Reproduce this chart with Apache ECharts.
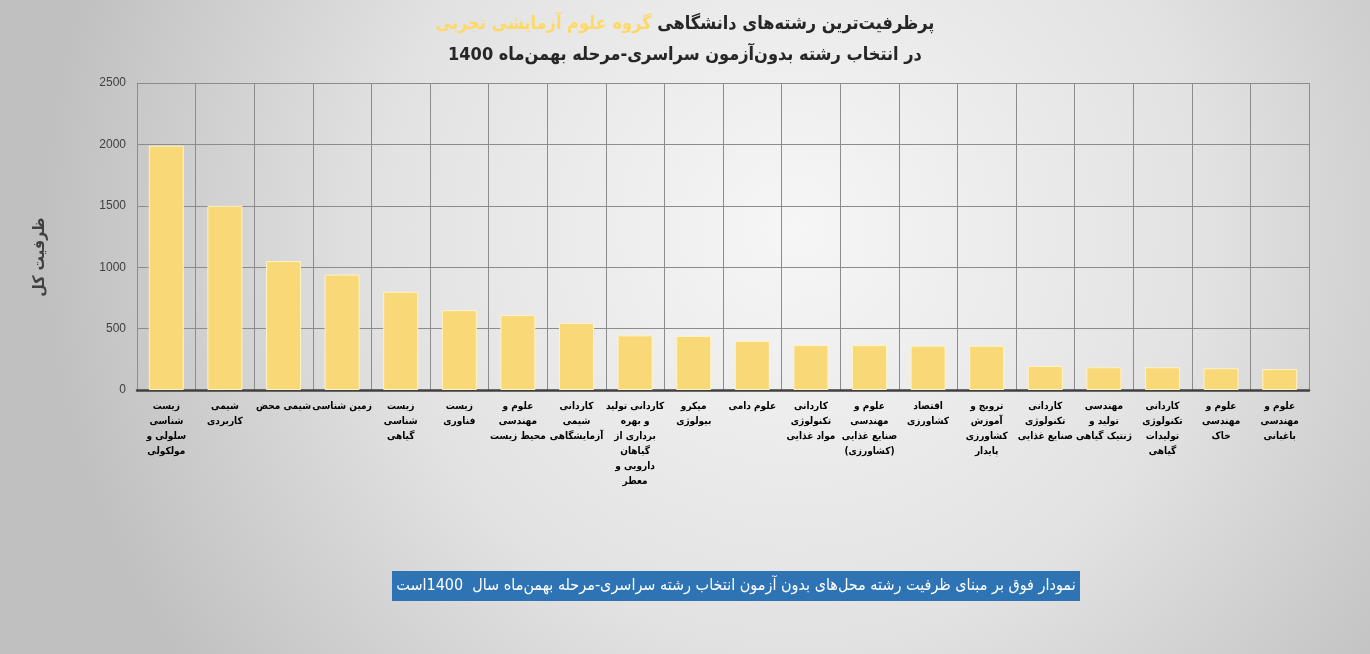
<!DOCTYPE html>
<html>
<head>
<meta charset="utf-8">
<script src="https://cdn.jsdelivr.net/npm/echarts@6/dist/echarts.min.js"></script>
<style>
html,body{margin:0;padding:0;}
#c{width:1370px;height:654px;}
</style>
</head>
<body>
<div id="c"></div>
<script>
const categories = [
  "زیست\nشناسی\nسلولی و\nمولکولی",
  "شیمی\nکاربردی",
  "شیمی محض",
  "زمین شناسی",
  "زیست\nشناسی\nگیاهی",
  "زیست\nفناوری",
  "علوم و\nمهندسی\nمحیط زیست",
  "کاردانی\nشیمی\nآزمایشگاهی",
  "کاردانی تولید\nو بهره\nبرداری از\nگیاهان\nدارویی و\nمعطر",
  "میکرو\nبیولوژی",
  "علوم دامی",
  "کاردانی\nتکنولوژی\nمواد غذایی",
  "علوم و\nمهندسی\nصنایع غذایی\n(کشاورزی)",
  "اقتصاد\nکشاورزی",
  "ترویج و\nآموزش\nکشاورزی\nپایدار",
  "کاردانی\nتکنولوژی\nصنایع غذایی",
  "مهندسی\nتولید و\nژنتیک گیاهی",
  "کاردانی\nتکنولوژی\nتولیدات\nگیاهی",
  "علوم و\nمهندسی\nخاک",
  "علوم و\nمهندسی\nباغبانی"
];
const capacity = [1990, 1500, 1050, 940, 800, 650, 610, 545, 445, 440, 400, 365, 365, 360, 360, 195, 185, 185, 177, 170];
const yMin = 0, yMax = 2500, yStep = 500;

const titleDark = "پرظرفیت‌ترین رشته‌های دانشگاهی";
const titleYellow = "گروه علوم آزمایشی تجربی";
const titleLine2 = "در انتخاب رشته بدون‌آزمون سراسری-مرحله بهمن‌ماه 1400";
const yAxisTitle = "ظرفیت کل";
const footNote = "نمودار فوق بر مبنای ظرفیت رشته محل‌های بدون آزمون انتخاب رشته سراسری-مرحله بهمن‌ماه سال  1400است";

const RLE = "\u202B", PDF = "\u202C";
function rtl(s){ return s.split("\n").map(l => RLE + l + PDF).join("\n"); }

const AR = "'DejaVu Sans Condensed','DejaVu Sans',sans-serif";

const chart = echarts.init(document.getElementById('c'));
chart.setOption({
  backgroundColor: {
    type: 'radial', x: 0.58, y: 0.35, r: 1.15,
    colorStops: [{offset: 0, color: '#f6f6f6'}, {offset: 0.55, color: '#e2e2e2'}, {offset: 1, color: '#c0c0c0'}]
  },
  animation: false,
  title: {
    left: 'center', top: 4,
    text: '{y|' + rtl(titleYellow) + '}{d| ' + rtl(titleDark) + '}\n{d|' + rtl(titleLine2) + '}',
    textStyle: {
      rich: {
        y: {color: '#FFD966', fontSize: 18, fontWeight: 'bold', fontFamily: AR, lineHeight: 31},
        d: {color: '#262626', fontSize: 18, fontWeight: 'bold', fontFamily: AR, lineHeight: 31}
      }
    }
  },
  grid: {left: 137, right: 61, top: 83, bottom: 264, containLabel: false},
  xAxis: {
    type: 'category',
    data: categories,
    axisLine: {show: true, lineStyle: {color: '#404040', width: 2.5}},
    axisTick: {show: false},
    splitLine: {show: true, lineStyle: {color: '#8c8c8c', width: 1}},
    axisLabel: {
      interval: 0, margin: 9, color: '#000', fontSize: 10, fontWeight: 'bold',
      fontFamily: AR, lineHeight: 15, verticalAlign: 'top',
      formatter: v => rtl(v)
    }
  },
  yAxis: {
    type: 'value', min: yMin, max: yMax, interval: yStep,
    axisLine: {show: true, lineStyle: {color: '#8c8c8c', width: 1}},
    axisTick: {show: false},
    splitLine: {show: true, lineStyle: {color: '#8c8c8c', width: 1}},
    axisLabel: {color: '#404040', fontSize: 12, fontFamily: "'Liberation Sans',sans-serif", margin: 11, formatter: v => String(v)}
  },
  graphic: [
    {
      type: 'text', x: 40, y: 257, rotation: Math.PI / 2,
      style: {text: rtl(yAxisTitle), fill: '#404040', font: "bold 16px " + AR, align: 'center', verticalAlign: 'middle'}
    },
    {
      type: 'rect', shape: {x: 392, y: 571, width: 688, height: 30},
      style: {fill: '#2E74B5'}
    },
    {
      type: 'text', x: 736, y: 586,
      style: {text: rtl(footNote), fill: '#ffffff', font: "16px " + AR, align: 'center', verticalAlign: 'middle'}
    }
  ],
  series: [{
    type: 'bar',
    data: capacity,
    barWidth: 35,
    itemStyle: {color: '#F9D877', borderColor: '#FFF3C4', borderWidth: 1}
  }]
});
</script>
</body>
</html>
